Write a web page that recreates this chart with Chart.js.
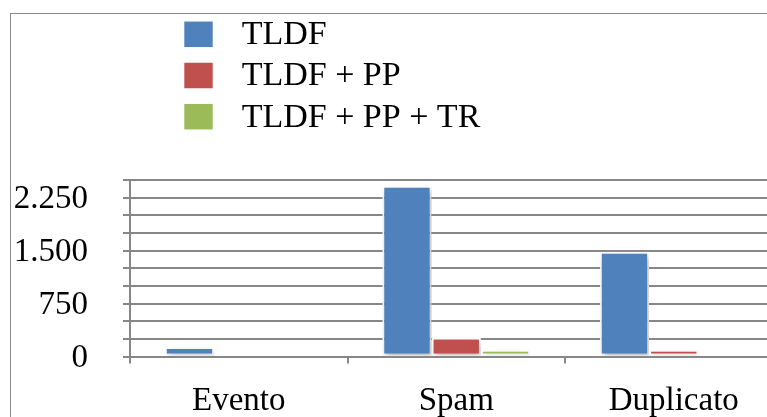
<!DOCTYPE html>
<html>
<head>
<meta charset="utf-8">
<title>TLDF</title>
<script src="https://cdn.jsdelivr.net/npm/chart.js@4/dist/chart.umd.min.js"></script>
<style>
  html, body { margin: 0; padding: 0; background: #ffffff; overflow: hidden; }
  #wrap { position: relative; width: 800px; height: 440px; }
</style>
</head>
<body>
<div id="wrap"><canvas id="chart" width="800" height="440"></canvas></div>
<script>
// Categories and series
const categories = ['Evento', 'Spam', 'Duplicato'];
const seriesNames = ['TLDF', 'TLDF + PP', 'TLDF + PP + TR'];
const tldf = [135, 2420, 1485];
const tldfPP = [0, 265, 95];
const tldfPPTR = [0, 95, 0];

// Y axis: grid every 250, labels every 750
const yMax = 2500;
const yStep = 250;
const yLabelValues = [0, 750, 1500, 2250];
const yLabelTexts = ['0', '750', '1.500', '2.250'];

const colors = ['#4F81BD', '#C0504D', '#9BBB59'];
const gridGrey = '#878787';
const serif = "'Liberation Serif', 'Times New Roman', serif";

// Soft drop shadow under the bars
const barShadow = {
  id: 'barShadow',
  beforeDatasetsDraw(chart) {
    const ctx = chart.ctx;
    ctx.save();
    ctx.shadowColor = 'rgba(0,0,0,0.28)';
    ctx.shadowBlur = 6;
    ctx.shadowOffsetX = 2;
    ctx.shadowOffsetY = 3;
  },
  afterDatasetsDraw(chart) {
    chart.ctx.restore();
  }
};

// Outer frame of the chart object
const frame = {
  id: 'frame',
  beforeDraw(chart) {
    const ctx = chart.ctx;
    ctx.save();
    ctx.strokeStyle = '#8a8a8a';
    ctx.lineWidth = 1;
    ctx.strokeRect(10.5, 13.5, chart.width + 20, chart.height + 20);
    ctx.restore();
  }
};

// Stacked legend above the plot, built from the datasets
const columnLegend = {
  id: 'columnLegend',
  afterDraw(chart, args, opts) {
    const ctx = chart.ctx;
    ctx.save();
    ctx.font = opts.fontSize + 'px ' + serif;
    ctx.textBaseline = 'middle';
    ctx.textAlign = 'left';
    chart.data.datasets.forEach((ds, i) => {
      const cy = opts.top + i * opts.rowHeight;
      ctx.fillStyle = ds.backgroundColor;
      ctx.fillRect(opts.left, cy - opts.boxH / 2, opts.boxW, opts.boxH);
      ctx.fillStyle = '#000000';
      ctx.fillText(ds.label, opts.textLeft, cy + 1);
    });
    ctx.restore();
  }
};

const seriesValues = [tldf, tldfPP, tldfPPTR];

new Chart(document.getElementById('chart'), {
  type: 'bar',
  data: {
    labels: categories,
    datasets: seriesNames.map((name, i) => ({
      label: name,
      data: seriesValues[i],
      backgroundColor: colors[i],
      borderColor: '#ffffff',
      borderWidth: 2,
      borderSkipped: false,
      categoryPercentage: 0.68,
      barPercentage: 1.0
    }))
  },
  options: {
    responsive: false,
    devicePixelRatio: 1,
    animation: false,
    layout: { padding: { top: 180, left: 12, right: 17.5, bottom: 18.5 } },
    plugins: {
      legend: { display: false },
      tooltip: { enabled: false },
      columnLegend: {
        left: 184.3, boxW: 28.4, boxH: 25.5, textLeft: 241.7,
        top: 34.3, rowHeight: 41.2, fontSize: 34
      }
    },
    scales: {
      x: {
        grid: {
          display: true, drawOnChartArea: false, drawTicks: true,
          tickLength: 7, color: gridGrey, lineWidth: 2, offset: true
        },
        border: { display: true, color: gridGrey, width: 2 },
        ticks: {
          color: '#000000', padding: 18, maxRotation: 0,
          font: { family: serif, size: 33 }
        },
        afterFit(scale) { scale.height = 65; }
      },
      y: {
        min: 0,
        max: yMax,
        grid: {
          color: gridGrey, lineWidth: 2, drawTicks: true, tickLength: 7
        },
        border: { display: true, color: gridGrey, width: 2 },
        ticks: {
          stepSize: yStep,
          autoSkip: false,
          color: '#000000',
          padding: 35,
          labelOffset: 2,
          font: { family: serif, size: 33 },
          callback(value) {
            const k = yLabelValues.indexOf(value);
            return k >= 0 ? yLabelTexts[k] : '';
          }
        },
        afterFit(scale) { scale.width = 118; }
      }
    }
  },
  plugins: [frame, barShadow, columnLegend]
});
</script>
</body>
</html>
